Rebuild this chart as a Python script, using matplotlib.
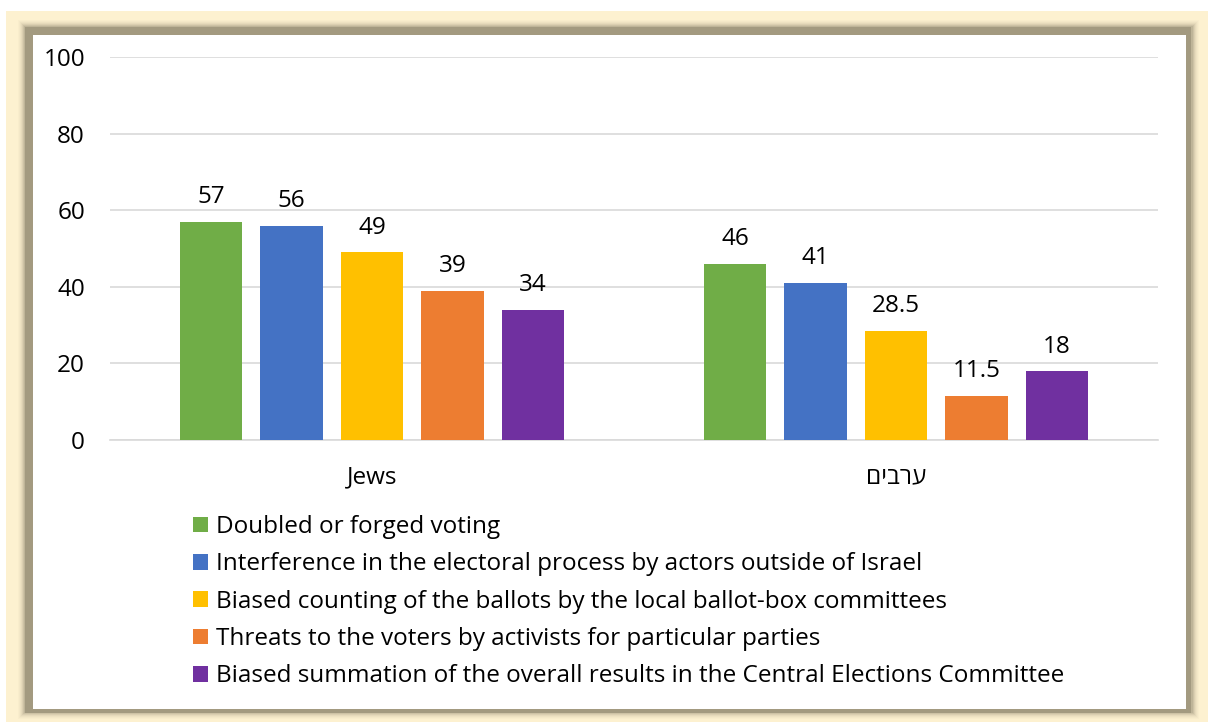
import matplotlib
matplotlib.use("Agg")
import matplotlib.pyplot as plt
from matplotlib.patches import Rectangle
import numpy as np

plt.rcParams['font.family'] = ['Open Sans', 'DejaVu Sans']

# Hebrew is written in visual (left-to-right glyph) order for matplotlib
categories = ["Jews", "םיברע"]
series_names = [
    "Doubled or forged voting",
    "Interference in the electoral process by actors outside of Israel",
    "Biased counting of the ballots by the local ballot-box committees",
    "Threats to the voters by activists for particular parties",
    "Biased summation of the overall results in the Central Elections Committee",
]
values = [
    [57, 46],
    [56, 41],
    [49, 28.5],
    [39, 11.5],
    [34, 18],
]
value_labels = [
    ["57", "46"],
    ["56", "41"],
    ["49", "28.5"],
    ["39", "11.5"],
    ["34", "18"],
]
colors = ["#70AD47", "#4472C4", "#FFC000", "#ED7D31", "#7030A0"]
yticks = [0, 20, 40, 60, 80, 100]

W, H = 1208, 722
fig = plt.figure(figsize=(W / 100, H / 100), dpi=100)
fig.patch.set_facecolor("white")


def px_rect(x0, y0, x1, y1, **kw):
    r = Rectangle((x0 / W, 1 - y1 / H), (x1 - x0) / W, (y1 - y0) / H,
                  transform=fig.transFigure, **kw)
    fig.add_artist(r)
    return r


# cream backdrop
px_rect(6, 11, 1208, 722, facecolor="#FDF1D0", edgecolor="none", zorder=0)
# soft grey frame shadow
for i, a in enumerate([0.12, 0.15, 0.2, 0.3, 0.45, 0.7, 1.0]):
    g = 6 - i
    px_rect(20 + i * 0.6 - g * 0.3, 22 + i * 0.6 - g * 0.3,
            1197 - i * 0.6 + g * 0.3, 717 - i * 0.6 + g * 0.3,
            facecolor="#A39A80", edgecolor="none", alpha=a * 0.35, zorder=0.1)
px_rect(25, 27, 1191, 713, facecolor="#A39A80", edgecolor="none", zorder=0.2)
# white chart panel
px_rect(33, 35, 1186, 709, facecolor="white", edgecolor="none", zorder=0.3)

ax = fig.add_axes([110 / W, 1 - 440 / H, (1158 - 110) / W, (440 - 57) / H])
ax.set_zorder(1)
ax.patch.set_alpha(0)

fs = 17.5
x = np.arange(len(categories))
slot = 0.1536
bw = 0.12
handles = []
for i, (name, vals, col, labs) in enumerate(zip(series_names, values, colors, value_labels)):
    pos = x + (i - 2) * slot
    b = ax.bar(pos, vals, width=bw, color=col, label=name, zorder=3)
    handles.append(b)
    ax.bar_label(b, labels=labs, padding=9, fontsize=fs, color="#000000")

ax.set_xlim(-0.5, 1.5)
ax.set_ylim(0, 100)
ax.set_yticks(yticks)
ax.set_yticklabels([str(t) for t in yticks])
ax.grid(axis="y", color="#D9D9D9", linewidth=1.2, zorder=0)
ax.set_xticks(x)
ax.set_xticklabels(categories)
for s in ["top", "right", "left"]:
    ax.spines[s].set_visible(False)
ax.spines["bottom"].set_color("#D9D9D9")
ax.spines["bottom"].set_linewidth(1.2)
ax.tick_params(axis="y", length=0, pad=18, labelsize=fs)
ax.tick_params(axis="x", length=0, pad=18, labelsize=fs)

fig.legend(handles=handles, labels=series_names, loc="upper left",
           bbox_to_anchor=(193 / W, 1 - 515 / H), frameon=False,
           fontsize=fs, handlelength=0.62, handleheight=0.62,
           handletextpad=0.33, labelspacing=0.55, borderaxespad=0,
           borderpad=0)

fig.savefig("out.png", dpi=100)
